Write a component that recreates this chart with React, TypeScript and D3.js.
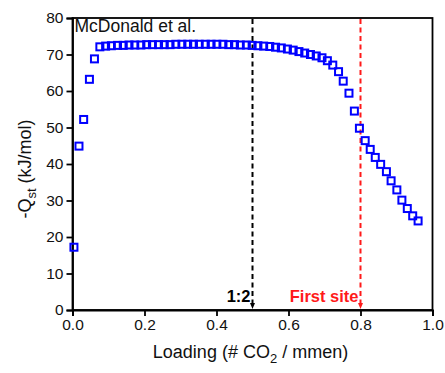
import React, { useEffect, useRef } from 'react';
import * as d3 from 'd3';

const loading = [
  0.004, 0.018, 0.031, 0.047, 0.061, 0.076, 0.092, 0.108, 0.125, 0.141, 0.157, 0.173,
  0.19, 0.206, 0.222, 0.239, 0.255, 0.271, 0.287, 0.304, 0.32, 0.336, 0.352, 0.369,
  0.385, 0.401, 0.418, 0.434, 0.45, 0.466, 0.483, 0.499, 0.515, 0.531, 0.548, 0.564,
  0.58, 0.597, 0.613, 0.629, 0.645, 0.661, 0.677, 0.693, 0.708, 0.723, 0.739, 0.752,
  0.768, 0.783, 0.797, 0.813, 0.827, 0.841, 0.856, 0.872, 0.885, 0.901, 0.915, 0.93,
  0.945, 0.96,
];
const qst = [
  17.2, 44.9, 52.2, 63.2, 68.8, 72.1, 72.3, 72.4, 72.5, 72.5, 72.6, 72.6,
  72.6, 72.7, 72.7, 72.7, 72.7, 72.7, 72.8, 72.8, 72.8, 72.8, 72.8, 72.8,
  72.8, 72.8, 72.8, 72.7, 72.7, 72.6, 72.6, 72.5, 72.4, 72.3, 72.2, 72.0,
  71.8, 71.5, 71.2, 70.8, 70.4, 70.0, 69.6, 69.1, 68.3, 67.1, 65.3, 62.7,
  59.4, 54.5, 49.8, 46.4, 44.0, 41.8, 39.9, 37.9, 35.4, 32.9, 30.1, 27.8,
  25.8, 24.4,
];
const xTicks = [0, 0.2, 0.4, 0.6, 0.8, 1.0];
const yTicks = [0, 10, 20, 30, 40, 50, 60, 70, 80];
const markers = [
  { x: 0.5, label: '1:2', color: '#000000' },
  { x: 0.8, label: 'First site', color: '#ff1a1a' },
];

const W = 445;
const H = 373;
const margin = { top: 18, right: 12.5, bottom: 63, left: 72.5 };
const font = 'Arial, "Liberation Sans", sans-serif';

const App = () => {
  const svgRef = useRef(null);

  useEffect(() => {
    const svg = d3.select(svgRef.current);
    svg.selectAll('*').remove();

    const iw = W - margin.left - margin.right;
    const ih = H - margin.top - margin.bottom;

    const x = d3.scaleLinear().domain([0, 1]).range([0, iw]);
    const y = d3.scaleLinear().domain([0, 80]).range([ih, 0]);

    const g = svg.append('g').attr('transform', `translate(${margin.left},${margin.top})`);

    // frame
    g.append('rect')
      .attr('width', iw)
      .attr('height', ih)
      .attr('fill', 'none')
      .attr('stroke', '#000')
      .attr('stroke-width', 1.8);

    const xAxis = g
      .append('g')
      .attr('transform', `translate(0,${ih})`)
      .call(d3.axisBottom(x).tickValues(xTicks).tickSize(6).tickPadding(3).tickFormat(d3.format('.1f')));
    const yAxis = g
      .append('g')
      .call(d3.axisLeft(y).tickValues(yTicks).tickSize(6).tickPadding(3));

    [xAxis, yAxis].forEach((a) => {
      a.select('.domain').attr('stroke-width', 1.8);
      a.selectAll('.tick line').attr('stroke-width', 1.8);
      a.selectAll('.tick text')
        .attr('font-family', font)
        .attr('font-size', 15.5)
        .attr('fill', '#111');
    });

    // reference lines with small arrowheads on the axis
    markers.forEach((m) => {
      const px = x(m.x);
      g.append('line')
        .attr('x1', px)
        .attr('x2', px)
        .attr('y1', 1)
        .attr('y2', ih - 5)
        .attr('stroke', m.color)
        .attr('stroke-width', 2)
        .attr('stroke-dasharray', '5,3.5');
      g.append('path')
        .attr('d', `M${px - 2.5},${ih - 7} L${px + 2.5},${ih - 7} L${px},${ih - 1} Z`)
        .attr('fill', m.color);
      g.append('text')
        .attr('x', px - 2)
        .attr('y', ih - 8)
        .attr('text-anchor', 'end')
        .attr('font-family', font)
        .attr('font-weight', 'bold')
        .attr('font-size', 16.5)
        .attr('fill', m.color)
        .text(m.label);
    });

    // data squares
    const pts = loading.map((l, i) => ({ l, q: qst[i] }));
    g.selectAll('.pt')
      .data(pts)
      .join('rect')
      .attr('class', 'pt')
      .attr('x', (d) => x(d.l) - 3.5)
      .attr('y', (d) => y(d.q) - 3.5)
      .attr('width', 7)
      .attr('height', 7)
      .attr('fill', 'none')
      .attr('stroke', '#0000ff')
      .attr('stroke-width', 2);

    g.append('text')
      .attr('x', 2)
      .attr('y', 14)
      .attr('font-family', font)
      .attr('font-size', 17.5)
      .attr('fill', '#111')
      .text('McDonald et al.');

    // axis titles
    const xt = svg
      .append('text')
      .attr('x', margin.left + iw / 2 - 2)
      .attr('y', 358)
      .attr('text-anchor', 'middle')
      .attr('font-family', font)
      .attr('font-size', 18)
      .attr('fill', '#111');
    xt.append('tspan').text('Loading (# CO');
    xt.append('tspan').attr('font-size', 13).attr('dy', 5).text('2');
    xt.append('tspan').attr('dy', -5).text(' / mmen)');

    const yt = svg
      .append('text')
      .attr('transform', `translate(31,${margin.top + ih / 2 + 5}) rotate(-90)`)
      .attr('text-anchor', 'middle')
      .attr('font-family', font)
      .attr('font-size', 18)
      .attr('fill', '#111');
    yt.append('tspan').text('-Q');
    yt.append('tspan').attr('font-size', 13).attr('dy', 5).text('st');
    yt.append('tspan').attr('dy', -5).text(' (kJ/mol)');
  }, []);

  return (
    <div>
      <style>{'body{margin:0}'}</style>
      <svg ref={svgRef} width={W} height={H} style={{ display: 'block', background: '#fff' }}></svg>
    </div>
  );
};

export default App;
